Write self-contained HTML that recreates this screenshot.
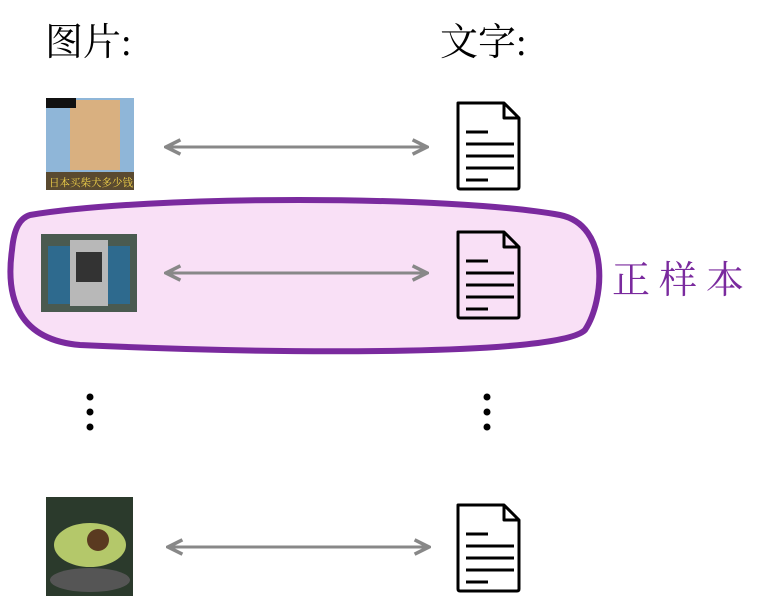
<!DOCTYPE html>
<html><head><meta charset="utf-8"><style>
html,body{margin:0;padding:0;background:#fff;}
svg{display:block}
text{font-family:"Liberation Serif","Noto Serif CJK SC",serif;}
</style></head><body>
<svg width="767" height="612" viewBox="0 0 767 612" xmlns="http://www.w3.org/2000/svg">
<defs>
<marker id="ah" viewBox="0 0 10 10" refX="9" refY="5" markerWidth="6" markerHeight="6" orient="auto-start-reverse">
<path d="M1,1 L9,5 L1,9" fill="none" stroke="#888" stroke-width="2"/>
</marker>
<g id="doc">
<path d="M2,2 H48 L63,17 V86 Q63,88 61,88 H4 Q2,88 2,86 Z" fill="none" stroke="#000" stroke-width="3" stroke-linejoin="round"/>
<path d="M48,2 V17 H63" fill="none" stroke="#000" stroke-width="3" stroke-linejoin="round"/>
<path d="M10,31 H32 M10,43 H58 M10,55 H58 M10,67 H58 M10,79 H32" stroke="#000" stroke-width="3"/>
</g>
</defs>
<path d="M30,215 C150,195 450,195 560,215 C610,225 605,300 585,330 C560,355 300,355 80,345 C20,340 5,300 12,250 C14,228 20,218 30,215 Z" fill="#f9e0f6" stroke="#7a2a9e" stroke-width="6"/>
<text x="45" y="55" font-size="38">图片:</text>
<text x="440" y="55" font-size="38">文字:</text>
<text x="612" y="293" font-size="38" fill="#7a2a9e" letter-spacing="9">正样本</text>
<!-- dog -->
<rect x="46" y="98" width="88" height="92" fill="#8fb6d8"/>
<rect x="70" y="100" width="50" height="70" fill="#d9b080"/>
<rect x="46" y="172" width="88" height="18" fill="#5a4a30"/>
<text x="49" y="186" font-size="10.5" fill="#f2d24a" font-family="Liberation Sans,Noto Sans CJK SC,sans-serif">日本买柴犬多少钱</text>
<rect x="46" y="98" width="30" height="10" fill="#111"/>
<!-- car -->
<rect x="41" y="234" width="96" height="78" fill="#4a5a50"/>
<rect x="48" y="246" width="82" height="58" fill="#2e6a8e"/>
<rect x="70" y="240" width="38" height="66" fill="#b8b8b8"/>
<rect x="76" y="252" width="26" height="30" fill="#333"/>
<!-- avocado -->
<rect x="46" y="497" width="87" height="99" fill="#2b3a2c"/>
<ellipse cx="90" cy="545" rx="36" ry="22" fill="#b4c86a"/>
<circle cx="98" cy="540" r="11" fill="#5a3a20"/>
<ellipse cx="90" cy="580" rx="40" ry="12" fill="#555"/>
<!-- arrows -->
<line x1="166" y1="147" x2="427" y2="147" stroke="#888" stroke-width="3" marker-start="url(#ah)" marker-end="url(#ah)"/>
<line x1="166" y1="273" x2="427" y2="273" stroke="#888" stroke-width="3" marker-start="url(#ah)" marker-end="url(#ah)"/>
<line x1="168" y1="547" x2="429" y2="547" stroke="#888" stroke-width="3" marker-start="url(#ah)" marker-end="url(#ah)"/>
<use href="#doc" x="456" y="101"/>
<use href="#doc" x="456" y="230"/>
<use href="#doc" x="456" y="503"/>
<circle cx="90" cy="397" r="3.5"/><circle cx="90" cy="412" r="3.5"/><circle cx="90" cy="427" r="3.5"/>
<circle cx="487" cy="397" r="3.5"/><circle cx="487" cy="412" r="3.5"/><circle cx="487" cy="427" r="3.5"/>
</svg>
</body></html>
